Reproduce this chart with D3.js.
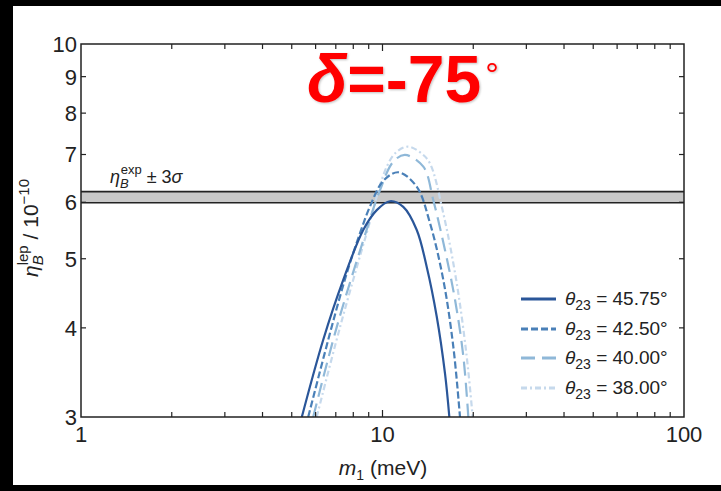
<!DOCTYPE html>
<html>
<head>
<meta charset="utf-8">
<script src="https://cdn.jsdelivr.net/npm/d3@7"></script>
<style>
  body { margin: 0; background: #000; }
  svg text { font-family: "Liberation Sans", Arial, sans-serif; fill: #222; }
</style>
</head>
<body>
<script>
var svgWidth = 721;
var svgHeight = 491;

// plot area
var chartMargin = { top: 44, right: 37, bottom: 74, left: 81 };
var chartWidth = svgWidth - chartMargin.left - chartMargin.right;
var chartHeight = svgHeight - chartMargin.top - chartMargin.bottom;

// data: m1 (meV) and eta_B (1e-10) per theta23
var thetaLabels = ["45.75", "42.50", "40.00", "38.00"];
var m1_4575 = [5.40, 6.36, 7.41, 8.64, 9.57, 10.59, 11.72, 12.98, 14.02, 15.13, 16.12, 16.66];
var eta_4575 = [3.00, 3.85, 4.67, 5.49, 5.85, 6.02, 5.91, 5.49, 4.87, 4.15, 3.45, 3.00];
var m1_4250 = [5.67, 6.78, 7.61, 8.42, 9.09, 10.06, 11.29, 12.98, 14.37, 15.91, 17.18, 18.07];
var eta_4250 = [3.00, 4.01, 4.77, 5.43, 5.92, 6.43, 6.61, 6.31, 5.61, 4.67, 3.76, 3.00];
var m1_4000 = [5.89, 7.05, 8.64, 9.81, 10.86, 11.87, 13.66, 14.74, 16.12, 17.40, 18.54, 19.26];
var eta_4000 = [3.00, 4.01, 5.31, 6.24, 6.84, 6.99, 6.73, 6.04, 5.14, 4.38, 3.65, 3.00];
var m1_3800 = [6.05, 7.23, 8.86, 10.33, 11.14, 12.18, 13.49, 14.37, 15.91, 17.63, 19.02, 19.91];
var eta_3800 = [3.00, 4.01, 5.43, 6.73, 7.06, 7.18, 7.02, 6.80, 5.79, 4.62, 3.65, 3.00];

var bandLow = 5.99, bandHigh = 6.21;   // eta_B^exp +- 3 sigma
var yTicks = [3, 4, 5, 6, 7, 8, 9, 10];
var xMajor = [1, 10, 100];
var xMinor = [2, 3, 4, 5, 6, 7, 8, 9, 20, 30, 40, 50, 60, 70, 80, 90];

var colors = ["#2a5699", "#4a80b8", "#8fb8d8", "#c6d9ec"];
var dashes = [null, "7,3", "14,7", "6,3,2,3"];

var series = [
  { m: m1_4575, e: eta_4575 },
  { m: m1_4250, e: eta_4250 },
  { m: m1_4000, e: eta_4000 },
  { m: m1_3800, e: eta_3800 }
];

var svg = d3.select("body").append("svg")
  .attr("width", svgWidth).attr("height", svgHeight);

// white paper on black
svg.append("rect").attr("x", 13).attr("y", 6)
  .attr("width", svgWidth - 13).attr("height", 479).attr("fill", "#fff");

var defs = svg.append("defs");
defs.append("clipPath").attr("id", "plotclip")
  .append("rect").attr("width", chartWidth).attr("height", chartHeight);
defs.append("filter").attr("id", "shadow")
  .append("feDropShadow").attr("dx", 1).attr("dy", 1)
  .attr("stdDeviation", 1).attr("flood-color", "#000").attr("flood-opacity", 0.25);

var chartGroup = svg.append("g")
  .attr("transform", `translate(${chartMargin.left}, ${chartMargin.top})`);

var x = d3.scaleLog().domain([1, 100]).range([0, chartWidth]);
var y = d3.scaleLog().domain([3, 10]).range([chartHeight, 0]);

// band
chartGroup.append("rect")
  .attr("x", 0).attr("width", chartWidth)
  .attr("y", y(bandHigh)).attr("height", y(bandLow) - y(bandHigh))
  .attr("fill", "#c8c8c8");
[bandLow, bandHigh].forEach(function (v) {
  chartGroup.append("line")
    .attr("x1", 0).attr("x2", chartWidth)
    .attr("y1", y(v)).attr("y2", y(v))
    .attr("stroke", "#222").attr("stroke-width", 1.6);
});

// curves, lightest first so the solid one sits on top
var line = d3.line()
  .x(function (d) { return x(d[0]); })
  .y(function (d) { return y(d[1]); })
  .curve(d3.curveCatmullRom.alpha(0.5));

var curves = chartGroup.append("g").attr("clip-path", "url(#plotclip)");
for (var i = series.length - 1; i >= 0; i--) {
  var pts = series[i].m.map(function (m, j) { return [m, series[i].e[j]]; });
  curves.append("path")
    .attr("d", line(pts))
    .attr("fill", "none")
    .attr("stroke", colors[i])
    .attr("stroke-width", 2.2)
    .attr("stroke-dasharray", dashes[i]);
}

// frame and inward ticks
chartGroup.append("rect").attr("width", chartWidth).attr("height", chartHeight)
  .attr("fill", "none").attr("stroke", "#222").attr("stroke-width", 1.5);

var tickG = chartGroup.append("g").attr("stroke", "#222").attr("stroke-width", 1.2);
yTicks.slice(1, -1).forEach(function (t) {
  tickG.append("line").attr("x1", 0).attr("x2", 5).attr("y1", y(t)).attr("y2", y(t));
  tickG.append("line").attr("x1", chartWidth).attr("x2", chartWidth - 5).attr("y1", y(t)).attr("y2", y(t));
});
xMajor.slice(1, -1).concat(xMinor).forEach(function (t) {
  var len = xMajor.indexOf(t) >= 0 ? 7 : 5;
  tickG.append("line").attr("x1", x(t)).attr("x2", x(t)).attr("y1", chartHeight).attr("y2", chartHeight - len);
  tickG.append("line").attr("x1", x(t)).attr("x2", x(t)).attr("y1", 0).attr("y2", len);
});

// tick labels
chartGroup.selectAll(".ylab").data(yTicks).enter().append("text")
  .attr("x", -4).attr("y", function (d) { return y(d); })
  .attr("dy", "0.36em").attr("text-anchor", "end")
  .style("font-size", "22px").text(function (d) { return d; });

chartGroup.selectAll(".xlab").data(xMajor).enter().append("text")
  .attr("x", function (d) { return x(d); }).attr("y", chartHeight + 25)
  .attr("text-anchor", "middle")
  .style("font-size", "22px").text(function (d) { return d; });

// x axis title
var xt = svg.append("text").attr("x", 383).attr("y", 475)
  .attr("text-anchor", "middle").style("font-size", "21px");
xt.append("tspan").style("font-style", "italic").text("m");
xt.append("tspan").attr("dy", 5).style("font-size", "14px").text("1");
xt.append("tspan").attr("dy", -5).text(" (meV)");

// y axis title
var yt = svg.append("text")
  .attr("transform", "translate(38, 228) rotate(-90)")
  .attr("text-anchor", "middle").style("font-size", "21px");
yt.append("tspan").style("font-style", "italic").text("η");
yt.append("tspan").attr("dy", 5).style("font-size", "15px").style("font-style", "italic").text("B");
yt.append("tspan").attr("dx", -10).attr("dy", -15).style("font-size", "15px").text("lep");
yt.append("tspan").attr("dy", 10).text("  / 10");
yt.append("tspan").attr("dy", -9).style("font-size", "15px").text("−10");

// band label
var bl = chartGroup.append("text").attr("x", 29).attr("y", 139).style("font-size", "18px");
bl.append("tspan").style("font-style", "italic").text("η");
bl.append("tspan").attr("dy", 5).style("font-size", "13px").style("font-style", "italic").text("B");
bl.append("tspan").attr("dx", -8).attr("dy", -14).style("font-size", "13px").text("exp");
bl.append("tspan").attr("dy", 9).text(" ± 3");
bl.append("tspan").style("font-style", "italic").text("σ");

// title
var title = svg.append("text").attr("x", 307).attr("y", 102)
  .attr("filter", "url(#shadow)")
  .style("font-size", "66px").style("font-weight", "bold").style("fill", "#ff0000");
title.append("tspan").style("font-style", "italic").text("δ");
title.append("tspan").text("=-75");
title.append("tspan").attr("dx", 4).attr("dy", -16).style("font-size", "34px")
  .style("font-weight", "normal").text("°");

// legend
var legendYs = [299, 329, 358, 388];
var legend = svg.append("g");
thetaLabels.forEach(function (lab, i) {
  legend.append("line")
    .attr("x1", 521).attr("x2", 556)
    .attr("y1", legendYs[i]).attr("y2", legendYs[i])
    .attr("stroke", colors[i]).attr("stroke-width", 3)
    .attr("stroke-dasharray", dashes[i]);
  var t = legend.append("text").attr("x", 565).attr("y", legendYs[i] + 6)
    .style("font-size", "19px");
  t.append("tspan").style("font-style", "italic").text("θ");
  t.append("tspan").attr("dy", 5).style("font-size", "14px").text("23");
  t.append("tspan").attr("dy", -5).text(" = " + lab + "°");
});
</script>
</body>
</html>
